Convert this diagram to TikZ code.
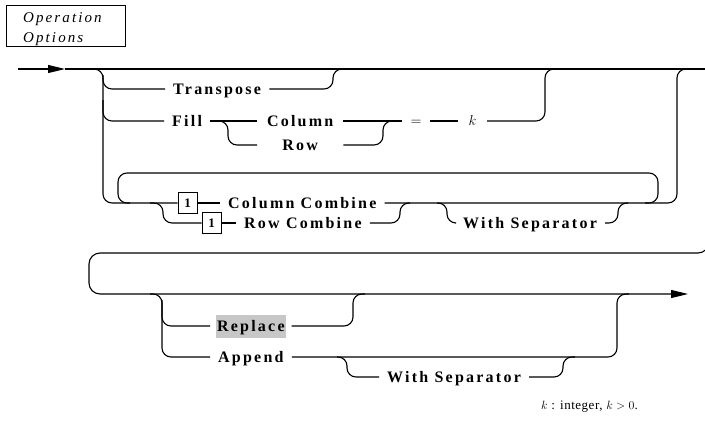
\documentclass[tikz,border=0pt]{standalone}
\usepackage{fontspec}
\setmainfont{Liberation Serif}
\newfontfamily\kwfont[LetterSpace=14]{Liberation Serif}
\newfontfamily\ttlfont[LetterSpace=14]{Liberation Serif}
\newfontfamily\notefont[LetterSpace=4]{Liberation Serif}
\usetikzlibrary{arrows.meta}
\tikzset{
  rail/.style={line width=1.1pt, rounded corners=9pt},
  kw/.style={font=\fontsize{16}{18}\selectfont\kwfont\bfseries, inner xsep=8pt, inner ysep=0pt,
    text height=10.6pt, text depth=0pt, anchor=west},
  sym/.style={font=\fontsize{15}{17}\selectfont, inner xsep=0pt, inner ysep=0pt,
    text height=9pt, text depth=0pt},
  onebox/.style={draw, line width=0.8pt, minimum width=19pt, minimum height=21pt, inner sep=0pt,
    font=\fontsize{13}{14}\selectfont\bfseries},
  ttltxt/.style={font=\fontsize{15}{17}\selectfont\ttlfont\itshape, anchor=base west, inner sep=0pt},
  tip/.style={-{Triangle[length=17pt,width=8pt]}}
}
\begin{document}
\begin{tikzpicture}[x=1pt,y=-1pt]
\useasboundingbox (0,0) rectangle (705,421);
% title
\node[draw, line width=0.8pt, anchor=north west, minimum width=119pt, minimum height=41pt, inner sep=0pt] (title) at (6,5) {};
\node[ttltxt] (ttl1) at (23,22) {Operation};
\node[ttltxt] (ttl2) at (23,42) {Options};

% ---------- row 1 ----------
\coordinate (s0) at (18,69);
\coordinate (s1) at (65,69);
\coordinate (e1) at (705,69);
\draw[line width=1.1pt, tip] (s0) -- (s1);
\draw[rail] (s1) -- (e1);

\node[kw] (tr) at (165,89) {Transpose};
\node[kw] (fill) at (164,121) {Fill};
\node[kw, minimum width=86pt] (col) at (257,121) {Column};
\node[kw, minimum width=86pt] (row) at (257,145) {Row};
\node[sym, minimum width=28pt] (eq) at (416,121) {$=$};
\node[sym, minimum width=29pt] (k) at (472.5,121) {$k$};

\node[onebox] (b1) at (187.5,203) {1};
\node[kw] (cc) at (220,203) {Column Combine};
\node[onebox] (b2) at (211.5,223) {1};
\node[kw] (rc) at (236,223) {Row Combine};
\node[kw] (ws1) at (455,223) {With Separator};

% left vertical and its branches
\draw[rail] (88,69) -- (103,69) -- (103,203) -- (b1.west);
\draw[rail] (103,75) -- (103,89) -- (tr.west);
\draw[rail] (tr.east) -- (333,89) -- (333,69) -- (345,69);
\draw[rail] (103,100) |- (fill.west);
\draw[rail] (fill.east) -- (col.west);
\draw[rail] (218,121) -- (228,121) -- (228,145) -- (row.west);
\draw[rail] (col.east) -- (eq.west);
\draw[rail] (row.east) -- (383,145) -- (383,121) -- (393,121);
\draw[rail] (eq.east) -- (k.west);
\draw[rail] (k.east) -- (545,121) -- (545,69) -- (557,69);

% combine group
\draw[rail] (b1.east) -- (cc.west);
\draw[rail] (150,203) -- (163,203) -- (163,223) -- (b2.west);
\draw[rail] (b2.east) -- (rc.west);
\draw[rail] (rc.east) -- (400,223) -- (400,203) -- (410,203);
\draw[rail] (cc.east) -- (677,203) -- (677,69) -- (690,69);
\draw[rail] (437,203) -- (447,203) -- (447,223) -- (ws1.west);
\draw[rail] (ws1.east) -- (618,223) -- (618,203) -- (628,203);
\draw[rail] (645,203) -- (658,203) -- (658,173) -- (118,173) -- (118,203) -- (130,203);

% ---------- row 2 ----------
\node[kw, fill=black!22, inner xsep=1pt, outer xsep=6pt, inner ysep=6.2pt] (rep) at (210,326) {Replace};
\node[kw] (app) at (210,357) {Append};
\node[kw] (ws2) at (379,377) {With Separator};
\coordinate (w0) at (709,240);
\coordinate (e2) at (688,294);
\draw[rail, rounded corners=11pt, tip] (w0) -- (709,253) -- (89,253) -- (89,294) -- (e2);
\draw[rail] (150,294) -- (162,294) -- (162,357) -- (app.west);
\draw[rail] (162,300) |- (rep.west);
\draw[rail] (rep.east) -- (353,326) -- (353,294) -- (365,294);
\draw[rail] (app.east) -- (617,357) -- (617,294) -- (629,294);
\draw[rail] (337,357) -- (347,357) -- (347,377) -- (ws2.west);
\draw[rail] (ws2.east) -- (563,377) -- (563,357) -- (575,357);

\node[anchor=base west, inner sep=0pt, font=\fontsize{13}{15}\selectfont\notefont] (note) at (541,409) {$k$ : integer, $k>0$.};
\end{tikzpicture}
\end{document}
